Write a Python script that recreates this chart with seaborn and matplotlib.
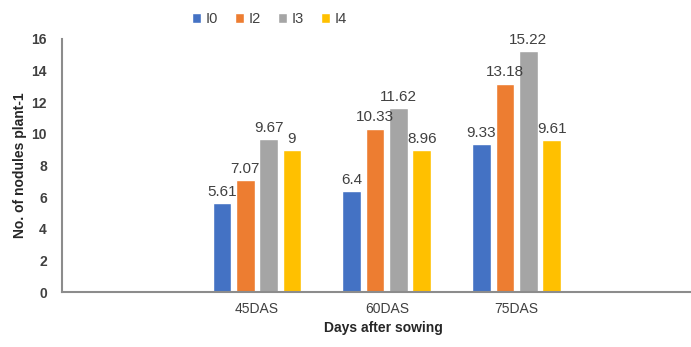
import pandas as pd
import numpy as np
import matplotlib
matplotlib.use('Agg')
import matplotlib.pyplot as plt
import seaborn as sns

# data
stages = ['45DAS', '60DAS', '75DAS']
treatments = ['I0', 'I2', 'I3', 'I4']
i0 = [5.61, 6.4, 9.33]
i2 = [7.07, 10.33, 13.18]
i3 = [9.67, 11.62, 15.22]
i4 = [9, 8.96, 9.61]
colors = ['#4472C4', '#ED7D31', '#A5A5A5', '#FFC000']

df = pd.DataFrame({
    'stage': stages * 4,
    'treatment': np.repeat(treatments, 3),
    'value': i0 + i2 + i3 + i4,
})

sns.set_style('white')
plt.rcParams['font.family'] = ['Liberation Sans', 'DejaVu Sans']

fig = plt.figure(figsize=(6.91, 3.47), dpi=100)
ax = fig.add_axes([0.09, 0.158, 0.93, 0.73])

# empty categories on both sides, as in the original layout
order = [' ', '45DAS', '60DAS', '75DAS', '  ']
sns.barplot(data=df, x='stage', y='value', hue='treatment', order=order,
            hue_order=treatments, palette=colors, width=0.72, gap=0.2,
            saturation=1, ax=ax)

for c in ax.containers:
    ax.bar_label(c, labels=[f'{v:g}' for v in c.datavalues], padding=3,
                 fontsize=11, color='#404040')

ax.set_ylim(0, 16)
ax.set_yticks(range(0, 17, 2))
ax.set_xlim(-0.5, 4.45)
ax.tick_params(axis='both', length=0, labelsize=10, colors='#404040', pad=7)
ax.tick_params(axis='y', pad=11)
for t in ax.get_yticklabels():
    t.set_fontweight('bold')
ax.set_xlabel('Days after sowing', fontsize=10, fontweight='bold', color='#262626')
ax.set_ylabel('No. of nodules plant-1', fontsize=10, fontweight='bold', color='#262626',
              labelpad=3)

sns.despine(ax=ax)
for s in ['left', 'bottom']:
    ax.spines[s].set_color('#8c8c8c')
    ax.spines[s].set_linewidth(1.5)

ax.legend(loc='center', bbox_to_anchor=(0.39, 0.945), bbox_transform=fig.transFigure,
          ncol=4, frameon=False, fontsize=10.5, handlelength=0.6, handleheight=0.6,
          handletextpad=0.3, columnspacing=1.2, labelcolor='#404040')

fig.savefig('out.png', dpi=100)
